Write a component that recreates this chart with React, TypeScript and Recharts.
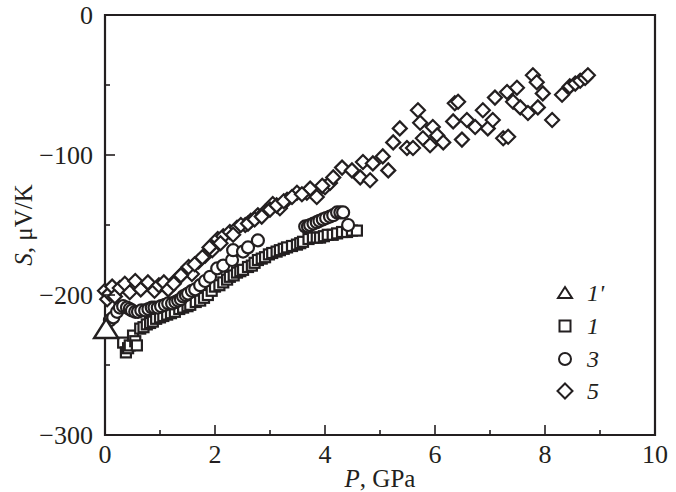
import { ScatterChart, Scatter, XAxis, YAxis, ReferenceArea } from "recharts";

const FONT = '"Liberation Serif", "Times New Roman", serif';
const INK = "#231f20";

// curve 1' : single point at zero pressure
const p1a = [0.02];
const s1a = [-225];

// curve 1 (squares)
const p1 = [
    0.33, 0.38, 0.42, 0.45, 0.51, 0.55, 0.58, 0.64, 0.7, 0.76, 0.82, 0.87,
    0.93, 1.0, 1.06, 1.13, 1.2, 1.27, 1.35, 1.42, 1.5, 1.55, 1.65, 1.73, 1.8,
    1.87, 1.94, 2.0, 2.08, 2.15, 2.22, 2.27, 2.34, 2.4, 2.46, 2.51, 2.6, 2.67,
    2.72, 2.78, 2.85, 2.91, 2.98, 3.04, 3.12, 3.18, 3.25, 3.31, 3.4, 3.49,
    3.55, 3.6, 3.7, 3.78, 3.85, 3.91, 3.98, 4.05, 4.14, 4.22, 4.31, 4.4, 4.49,
    4.58,
];
const s1 = [
    -234, -241, -238, -236, -229, -233, -236, -224, -223, -221, -220, -219,
    -217, -216, -215, -214, -213, -212, -210, -209, -208, -207, -205, -204,
    -202, -200, -197, -194, -193, -191, -189, -187, -186, -184, -183, -182,
    -180, -179, -177, -175, -174, -173, -171, -170, -169, -168, -167, -166,
    -165, -164, -163, -162, -160, -159, -159, -159, -158, -157, -157, -156,
    -155, -155, -154, -154,
];

// curve 3 (circles)
const p3 = [
    0.09, 0.15, 0.22, 0.27, 0.33, 0.4, 0.45, 0.49, 0.55, 0.6, 0.66, 0.73, 0.79,
    0.85, 0.9, 0.96, 1.02, 1.09, 1.15, 1.22, 1.28, 1.33, 1.38, 1.42, 1.47,
    1.51, 1.58, 1.64, 1.73, 1.82, 1.91, 2.04, 2.15, 2.31, 2.33, 2.51, 2.6,
    2.78, 3.64, 3.69, 3.73, 3.79, 3.85, 3.9, 3.96, 4.02, 4.09, 4.15, 4.22,
    4.28, 4.33, 4.42,
];
const s3 = [
    -218, -216, -212, -209, -208, -209, -210, -211, -212, -212, -211, -211,
    -210, -209, -209, -209, -208, -207, -206, -206, -205, -204, -203, -201,
    -200, -199, -197, -196, -193, -190, -187, -181, -179, -175, -168, -169,
    -166, -161, -151, -151, -150, -149, -148, -147, -146, -145, -144, -143,
    -141, -141, -141, -150,
];

// curve 5 (diamonds)
const p5 = [
    0.0, 0.04, 0.08, 0.13, 0.18, 0.27, 0.36, 0.45, 0.55, 0.65, 0.78, 0.9, 0.98,
    1.07, 1.15, 1.3, 1.45, 1.58, 1.7, 1.82, 1.95, 2.05, 2.15, 2.27, 2.4, 2.55,
    2.65, 2.78, 2.9, 3.05, 3.18, 3.31, 3.49, 3.67, 3.73, 3.85, 4.0, 4.09, 4.15,
    4.31, 4.49, 4.64, 4.69, 4.82, 4.87, 5.05, 5.15, 5.24, 5.36, 5.49, 5.6,
    5.69, 5.73, 5.78, 5.91, 5.96, 6.04, 6.15, 6.33, 6.36, 6.42, 6.49, 6.58,
    6.73, 6.87, 6.96, 7.05, 7.09, 7.24, 7.33, 7.31, 7.42, 7.49, 7.55, 7.69,
    7.78, 7.85, 7.87, 7.96, 8.13, 8.31, 8.45, 8.55, 8.64, 8.73, 8.78, 2.1,
    2.33, 2.47, 2.6, 2.72, 2.85, 3.0, 3.12, 3.25, 3.4, 3.58, 3.95, 1.25, 1.38,
    1.52, 1.63, 1.77, 1.9,
];
const s5 = [
    -197, -203, -199, -194, -201, -195, -192, -198, -190, -196, -191, -197,
    -193, -191, -196, -189, -183, -185, -176, -172, -168, -160, -158, -155,
    -152, -150, -147, -143, -141, -135, -138, -132, -127, -127, -124, -130,
    -123, -120, -116, -109, -111, -116, -105, -118, -106, -101, -111, -91, -81,
    -95, -95, -68, -77, -88, -93, -80, -86, -91, -76, -63, -62, -89, -75, -80,
    -68, -81, -75, -59, -88, -87, -55, -62, -52, -66, -70, -43, -48, -66, -56,
    -75, -57, -51, -49, -47, -45, -43, -163, -157, -150, -149, -146, -144,
    -139, -136, -133, -130, -128, -122, -192, -186, -180, -178, -173, -166,
];

const xTicks = [0, 1, 2, 3, 4, 5, 6, 7, 8, 9, 10];
const yTicks = [-300, -250, -200, -150, -100, -50, 0];

const legendItems = [
    { label: "1'", shape: "triangle" },
    { label: "1", shape: "square" },
    { label: "3", shape: "circle" },
    { label: "5", shape: "diamond" },
];

const toPoints = (p: number[], s: number[]) =>
    p.map((v, i) => ({ p: v, s: s[i] }));

const mark = { fill: "#fff", stroke: INK, strokeWidth: 2.2 };

const Square = ({ cx, cy }: any) => (
    <rect x={cx - 5} y={cy - 5} width={10} height={10} {...mark} />
);
const Circle = ({ cx, cy }: any) => <circle cx={cx} cy={cy} r={6} {...mark} />;
const Diamond = ({ cx, cy }: any) => (
    <polygon
        points={`${cx},${cy - 7} ${cx + 7},${cy} ${cx},${cy + 7} ${cx - 7},${cy}`}
        {...mark}
    />
);
const BigTriangle = ({ cx, cy }: any) => (
    <polygon
        points={`${cx},${cy - 11} ${cx + 12},${cy + 8} ${cx - 12},${cy + 8}`}
        fill="#fff"
        stroke={INK}
        strokeWidth={2.4}
    />
);

const fmt = (v: number) => (v < 0 ? `\u2212${-v}` : `${v}`);

const XTick = ({ x, y, payload }: any) => {
    const major = payload.value % 2 === 0;
    return (
        <g>
            <line x1={x} x2={x} y1={y} y2={y - (major ? 10 : 5)} stroke={INK} strokeWidth={1.6} />
            {major && (
                <text x={x} y={y + 28} textAnchor="middle" fontFamily={FONT} fontSize={26} fill={INK}>
                    {payload.value}
                </text>
            )}
        </g>
    );
};

const YTick = ({ x, y, payload }: any) => {
    const major = payload.value % 100 === 0;
    return (
        <g>
            <line x1={x} x2={x + (major ? 10 : 5)} y1={y} y2={y} stroke={INK} strokeWidth={1.6} />
            {major && (
                <text x={x - 12} y={y + 9} textAnchor="end" fontFamily={FONT} fontSize={26} fill={INK}>
                    {fmt(payload.value)}
                </text>
            )}
        </g>
    );
};

const xLabel = ({ viewBox }: any) => (
    <text
        x={viewBox.x + viewBox.width / 2}
        y={viewBox.y + 52}
        textAnchor="middle"
        fontFamily={FONT}
        fontSize={25}
        fill={INK}
    >
        <tspan fontStyle="italic">P</tspan>, GPa
    </text>
);

const yLabel = ({ viewBox }: any) => {
    const cx = 32;
    const cy = viewBox.y + viewBox.height / 2;
    return (
        <text
            x={cx}
            y={cy}
            transform={`rotate(-90 ${cx} ${cy})`}
            textAnchor="middle"
            fontFamily={FONT}
            fontSize={25}
            fill={INK}
        >
            <tspan fontStyle="italic">S</tspan>, μV/K
        </text>
    );
};

const LegendIcon = ({ shape }: { shape: string }) => {
    const st = { fill: "#fff", stroke: INK, strokeWidth: 2 };
    return (
        <svg width={18} height={18} style={{ display: "block" }}>
            {shape === "triangle" && <polygon points="9,3 16,14 2,14" {...st} />}
            {shape === "square" && <rect x={3.5} y={3.5} width={11} height={11} {...st} />}
            {shape === "circle" && <circle cx={9} cy={9} r={6} {...st} />}
            {shape === "diamond" && <polygon points="9,1.5 16.5,9 9,16.5 1.5,9" {...st} />}
        </svg>
    );
};

export default function App() {
    return (
        <div style={{ position: "absolute", left: 0, top: 0, width: 676, height: 492, background: "#fff" }}>
            <ScatterChart width={676} height={492} margin={{ top: 15, right: 21, bottom: 0, left: 0 }}>
                <XAxis
                    type="number"
                    dataKey="p"
                    domain={[0, 10]}
                    ticks={xTicks}
                    interval={0}
                    height={57}
                    axisLine={false}
                    tickLine={false}
                    tickSize={0}
                    tickMargin={0}
                    tick={XTick}
                    label={xLabel}
                />
                <YAxis
                    type="number"
                    dataKey="s"
                    domain={[-300, 0]}
                    ticks={yTicks}
                    interval={0}
                    width={105}
                    axisLine={false}
                    tickLine={false}
                    tickSize={0}
                    tickMargin={0}
                    tick={YTick}
                    label={yLabel}
                />
                <ReferenceArea
                    x1={0}
                    x2={10}
                    y1={-300}
                    y2={0}
                    fill="none"
                    stroke={INK}
                    strokeWidth={2.2}
                    ifOverflow="visible"
                />
                <Scatter name="1" data={toPoints(p1, s1)} shape={Square} isAnimationActive={false} />
                <Scatter name="3" data={toPoints(p3, s3)} shape={Circle} isAnimationActive={false} />
                <Scatter name="5" data={toPoints(p5, s5)} shape={Diamond} isAnimationActive={false} />
                <Scatter name="1'" data={toPoints(p1a, s1a)} shape={BigTriangle} isAnimationActive={false} />
            </ScatterChart>
            <div style={{ position: "absolute", left: 556, top: 277 }}>
                {legendItems.map((item) => (
                    <div key={item.label} style={{ display: "flex", alignItems: "center", height: 32.7 }}>
                        <LegendIcon shape={item.shape} />
                        <span
                            style={{
                                marginLeft: 13,
                                fontFamily: FONT,
                                fontStyle: "italic",
                                fontSize: 24,
                                color: INK,
                                lineHeight: "24px",
                            }}
                        >
                            {item.label}
                        </span>
                    </div>
                ))}
            </div>
        </div>
    );
}
